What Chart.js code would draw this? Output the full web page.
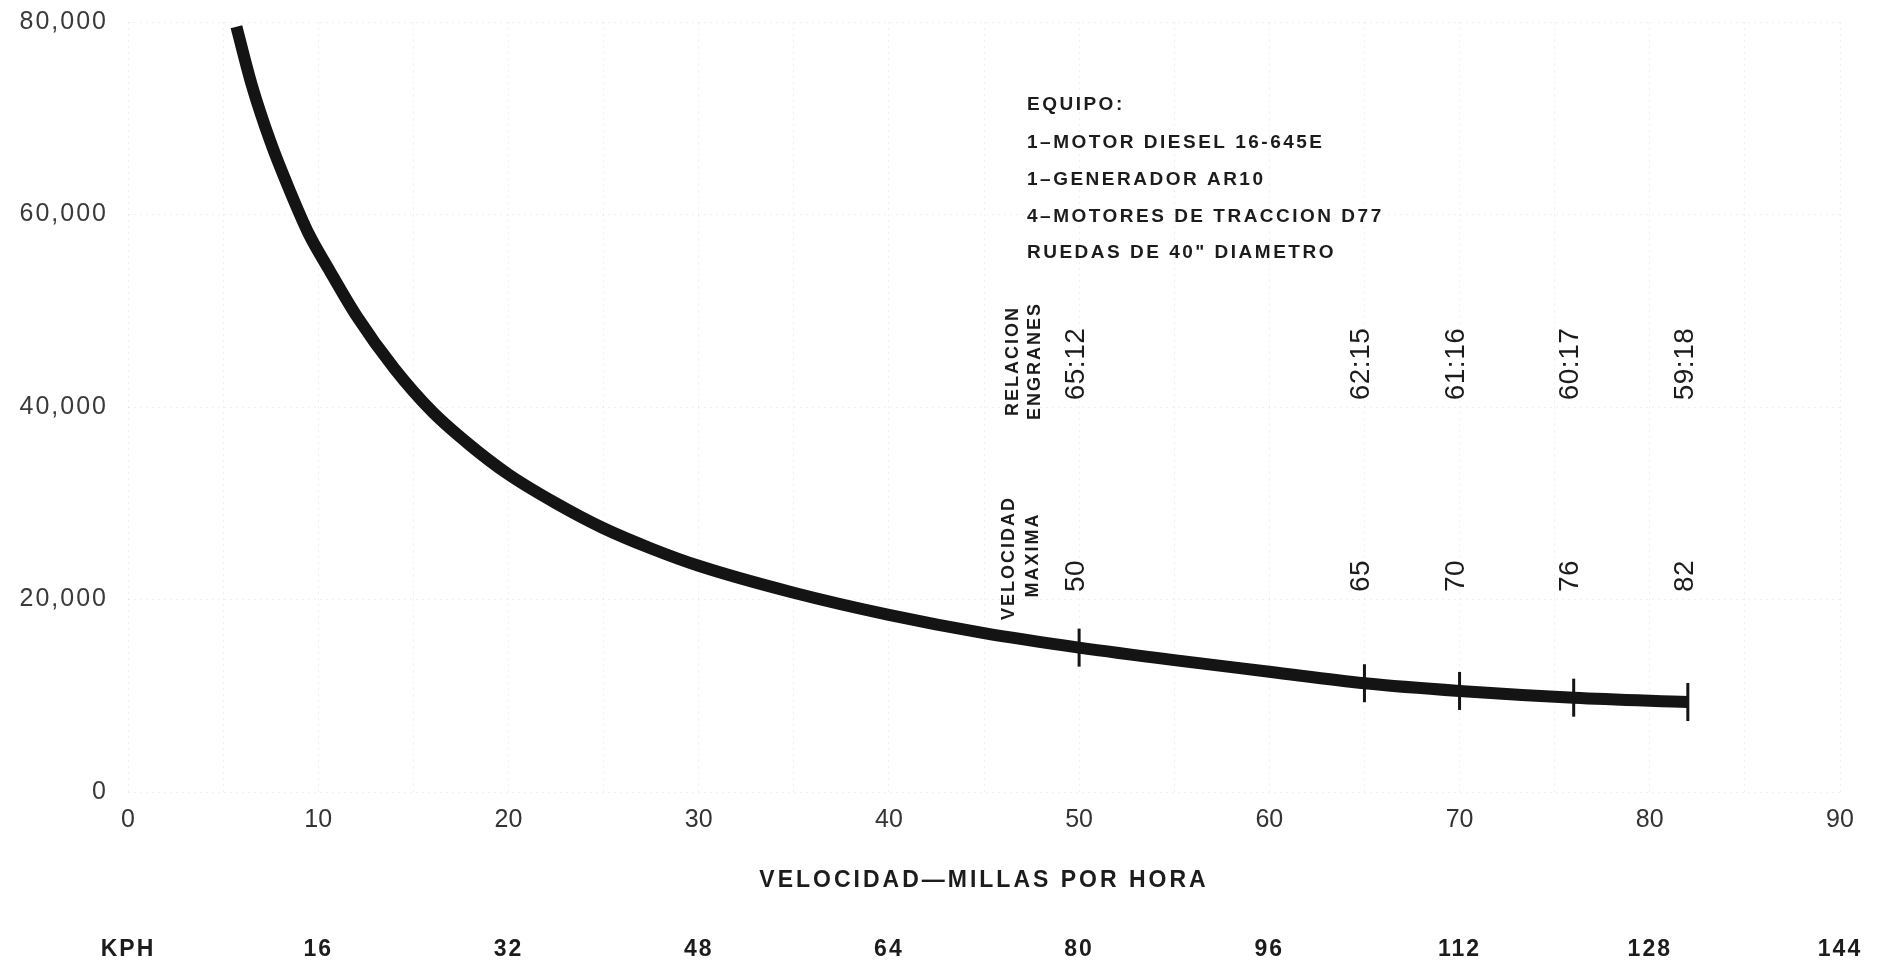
<!DOCTYPE html>
<html lang="es">
<head>
<meta charset="utf-8">
<title>Esfuerzo de tracción - velocidad</title>
<script src="https://cdn.jsdelivr.net/npm/chart.js@4.4.0/dist/chart.umd.min.js"></script>
<style>
    html, body { margin: 0; padding: 0; background: #ffffff; }
    canvas { display: block; }
</style>
</head>
<body>
<canvas id="myChart" width="1878" height="967"></canvas>
<script>
// curva de esfuerzo de traccion contra velocidad (mph)
let velocidades = [5.7, 6.5, 7.5, 8.5, 9.5, 10.5, 12, 14, 16, 18, 20, 22.5, 25, 27.5, 30, 35, 40, 45, 50, 55, 60, 65, 70, 76, 82];
let esfuerzo = [79500, 73500, 67500, 62500, 58000, 54500, 49500, 44000, 39500, 36000, 33000, 30000, 27400, 25300, 23500, 20700, 18400, 16500, 15000, 13700, 12500, 11300, 10500, 9800, 9350];

// velocidad maxima para cada relacion de engranes
let velocidadMaxima = [50, 65, 70, 76, 82];
let esfuerzoMaxima = [15000, 11300, 10500, 9800, 9350];
let relacionEngranes = ['65:12', '62:15', '61:16', '60:17', '59:18'];

let etiquetasY = ['0', '20,000', '40,000', '60,000', '80,000'];
let etiquetasMph = ['0', '10', '20', '30', '40', '50', '60', '70', '80', '90'];
let etiquetasKph = ['KPH', '16', '32', '48', '64', '80', '96', '112', '128', '144'];

let equipo = [
    'EQUIPO:',
    '1–MOTOR DIESEL 16-645E',
    '1–GENERADOR AR10',
    '4–MOTORES DE TRACCION D77',
    'RUEDAS DE 40" DIAMETRO'
];

window.onload = function() {
    let fuente = '"Liberation Sans", Arial, sans-serif';

    // espaciado de letras para los ejes (el grafico original usa letra espaciada)
    let espaciado = {
        x: { labels: '0px', title: '3px' },
        y: { labels: '2px', title: '0px' },
        kph: { labels: '2px', title: '0px' }
    };

    let espaciadoPlugin = {
        id: 'espaciado',
        afterLayout: function(chart) {
            Object.keys(espaciado).forEach(function(id) {
                let scale = chart.scales[id];
                if (!scale || scale._conEspaciado) return;
                scale._conEspaciado = true;
                let conf = espaciado[id];
                [['drawLabels', 'labels'], ['drawTitle', 'title']].forEach(function(par) {
                    let original = scale[par[0]];
                    scale[par[0]] = function() {
                        let prev = this.ctx.letterSpacing;
                        this.ctx.letterSpacing = conf[par[1]];
                        original.apply(this, arguments);
                        this.ctx.letterSpacing = prev;
                    };
                });
            });
        }
    };

    function textoVertical(ctx, texto, x, y) {
        ctx.save();
        ctx.translate(x, y);
        ctx.rotate(-Math.PI / 2);
        ctx.fillText(texto, 0, 0);
        ctx.restore();
    }

    let anotacionesPlugin = {
        id: 'anotaciones',
        afterDatasetsDraw: function(chart) {
            let ctx = chart.ctx;
            let xScale = chart.scales.x;
            ctx.save();
            ctx.fillStyle = '#1c1c1c';
            ctx.textBaseline = 'middle';

            // bloque de equipo
            ctx.font = 'bold 19px ' + fuente;
            ctx.letterSpacing = '2.5px';
            ctx.textAlign = 'left';
            let lineasY = [105, 143, 180, 217, 253];
            equipo.forEach(function(linea, i) {
                ctx.fillText(linea, 1027, lineasY[i]);
            });

            // encabezados verticales
            ctx.textAlign = 'center';
            ctx.font = 'bold 18px ' + fuente;
            ctx.letterSpacing = '2px';
            textoVertical(ctx, 'RELACION', 1013, 361);
            textoVertical(ctx, 'ENGRANES', 1035, 361);
            textoVertical(ctx, 'VELOCIDAD', 1009, 558);
            textoVertical(ctx, 'MAXIMA', 1033, 555);

            // relacion de engranes y velocidad maxima sobre cada marca
            ctx.font = '28px ' + fuente;
            ctx.letterSpacing = '0.5px';
            velocidadMaxima.forEach(function(v, i) {
                let px = xScale.getPixelForValue(v) - 3;
                textoVertical(ctx, relacionEngranes[i], px, 364);
                textoVertical(ctx, String(v), px, 576);
            });
            ctx.restore();
        }
    };

    let ctx = document.getElementById('myChart').getContext('2d');

    let myChart = new Chart(ctx, {
        type: 'line',
        data: {
            datasets: [{
                label: 'Esfuerzo de traccion',
                data: velocidades.map(function(v, i) { return { x: v, y: esfuerzo[i] }; }),
                borderColor: '#141414',
                borderWidth: 12,
                borderCapStyle: 'butt',
                pointRadius: 0,
                cubicInterpolationMode: 'monotone',
                fill: false
            }, {
                label: 'Velocidad maxima',
                data: velocidadMaxima.map(function(v, i) { return { x: v, y: esfuerzoMaxima[i] }; }),
                showLine: false,
                pointStyle: 'line',
                pointRotation: 90,
                pointRadius: 19,
                pointBorderWidth: 3,
                pointBorderColor: '#141414',
                pointBackgroundColor: '#141414'
            }]
        },
        options: {
            responsive: false,
            animation: false,
            layout: { padding: { top: 22, right: 38, bottom: 0, left: 0 } },
            plugins: {
                legend: { display: false },
                tooltip: { enabled: false }
            },
            scales: {
                x: {
                    type: 'linear',
                    position: 'bottom',
                    min: 0,
                    max: 90,
                    weight: 0,
                    afterFit: function(scale) {
                        scale.height = 108;
                        scale.paddingLeft = 10;
                        scale.paddingRight = 10;
                    },
                    grid: { color: 'rgba(0,0,0,0.06)', drawTicks: false },
                    border: { display: false, dash: [2, 4] },
                    ticks: {
                        stepSize: 5,
                        autoSkip: false,
                        maxRotation: 0,
                        padding: 13,
                        color: '#333333',
                        font: { family: fuente, size: 25 },
                        callback: function(value) {
                            return value % 10 === 0 ? etiquetasMph[value / 10] : '';
                        }
                    },
                    title: {
                        display: true,
                        text: 'VELOCIDAD—MILLAS POR HORA',
                        color: '#1c1c1c',
                        font: { family: fuente, size: 23, weight: 'bold' },
                        padding: { top: 0, bottom: 6 }
                    }
                },
                kph: {
                    type: 'linear',
                    position: 'bottom',
                    min: 0,
                    max: 90,
                    weight: 1,
                    afterFit: function(scale) {
                        scale.height = 67;
                        scale.paddingLeft = 10;
                        scale.paddingRight = 10;
                    },
                    grid: { display: false, drawTicks: false },
                    border: { display: false },
                    ticks: {
                        stepSize: 10,
                        autoSkip: false,
                        maxRotation: 0,
                        padding: 36,
                        color: '#1c1c1c',
                        font: { family: fuente, size: 23, weight: 'bold' },
                        callback: function(value) { return etiquetasKph[value / 10]; }
                    }
                },
                y: {
                    type: 'linear',
                    min: 0,
                    max: 80000,
                    afterFit: function(scale) {
                        scale.width = 128;
                        scale.paddingTop = 10;
                        scale.paddingBottom = 10;
                    },
                    grid: { color: 'rgba(0,0,0,0.06)', drawTicks: false },
                    border: { display: false, dash: [2, 4] },
                    ticks: {
                        stepSize: 20000,
                        padding: 20,
                        color: '#3a3a3a',
                        font: { family: fuente, size: 25 },
                        callback: function(value) { return etiquetasY[value / 20000]; }
                    }
                }
            }
        },
        plugins: [espaciadoPlugin, anotacionesPlugin]
    });
};
</script>
</body>
</html>
